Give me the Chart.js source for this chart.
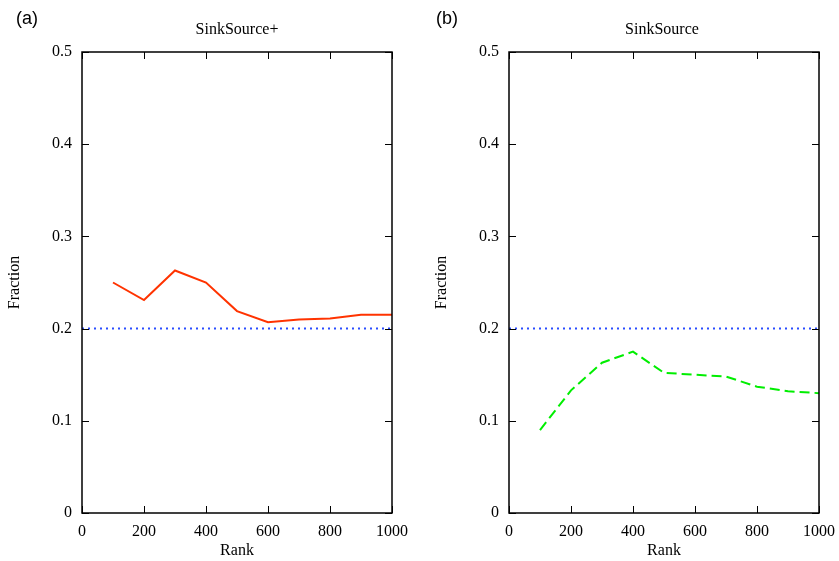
<!DOCTYPE html>
<html>
<head>
<meta charset="utf-8">
<script src="https://cdn.jsdelivr.net/npm/chart.js@4.4.0/dist/chart.umd.min.js"></script>
<style>
  html, body { margin: 0; padding: 0; background: #fff; }
  #wrap { position: relative; width: 839px; height: 561px; }
  .panel { position: absolute; top: 0; height: 561px; }
  #pa { left: 0; width: 420px; }
  #pb { left: 420px; width: 419px; }
</style>
</head>
<body>
<div id="wrap">
  <div class="panel" id="pa"><canvas id="chartA" width="420" height="561"></canvas></div>
  <div class="panel" id="pb"><canvas id="chartB" width="419" height="561"></canvas></div>
</div>
<script>
// données
const ranks = [100, 200, 300, 400, 500, 600, 700, 800, 900, 1000];
const sinkSourcePlus = [0.250, 0.231, 0.263, 0.250, 0.219, 0.207, 0.210, 0.211, 0.215, 0.215];
const sinkSource = [0.090, 0.133, 0.163, 0.175, 0.152, 0.150, 0.148, 0.137, 0.132, 0.130];
const baselineX = [0, 1000];
const baselineY = [0.2, 0.2];
const xTicks = [0, 200, 400, 600, 800, 1000];
const yTicks = [0, 0.1, 0.2, 0.3, 0.4, 0.5];

const serif = '"Liberation Serif", "Times New Roman", serif';

// cadre noir + graduations vers l'intérieur (style gnuplot)
const framePlugin = {
    id: 'frame',
    afterDatasetsDraw(chart, args, opts) {
        const { ctx, chartArea: a, scales } = chart;
        ctx.save();
        ctx.strokeStyle = '#000';
        ctx.lineWidth = 1.5;
        ctx.strokeRect(a.left, a.top, a.right - a.left, a.bottom - a.top);
        ctx.lineWidth = 1;
        const len = 7;
        ctx.beginPath();
        xTicks.forEach(v => {
            const x = Math.round(scales.x.getPixelForValue(v)) + 0.5;
            ctx.moveTo(x, a.bottom); ctx.lineTo(x, a.bottom - len);
            ctx.moveTo(x, a.top); ctx.lineTo(x, a.top + len);
        });
        yTicks.forEach(v => {
            const y = Math.round(scales.y.getPixelForValue(v)) + 0.5;
            ctx.moveTo(a.left, y); ctx.lineTo(a.left + len, y);
            ctx.moveTo(a.right, y); ctx.lineTo(a.right - len, y);
        });
        ctx.stroke();
        ctx.restore();
    },
    afterDraw(chart, args, opts) {
        const { ctx } = chart;
        ctx.save();
        ctx.fillStyle = '#000';
        ctx.textBaseline = 'middle';
        ctx.textAlign = 'left';
        ctx.font = '18px "Liberation Sans", Arial, sans-serif';
        ctx.fillText(opts.panel, opts.panelX, 19);
        ctx.textAlign = 'center';
        ctx.font = '16px ' + serif;
        ctx.fillText(opts.title, opts.titleX, 30);
        ctx.restore();
    }
};

function makeChart(id, values, color, dash, cfg) {
    const points = ranks.map((r, i) => ({ x: r, y: values[i] }));
    const base = baselineX.map((x, i) => ({ x: x, y: baselineY[i] }));
    return new Chart(document.getElementById(id), {
        type: 'line',
        data: {
            datasets: [
                {
                    data: points,
                    borderColor: color,
                    borderWidth: 2,
                    borderDash: dash,
                    pointRadius: 0,
                    tension: 0
                },
                {
                    data: base,
                    borderColor: '#2a4dff',
                    borderWidth: 2,
                    borderDash: [2, 4],
                    pointRadius: 0
                }
            ]
        },
        options: {
            responsive: false,
            animation: false,
            layout: { padding: { top: 52, right: cfg.right, left: 0, bottom: 0 } },
            plugins: {
                legend: { display: false },
                tooltip: { enabled: false },
                frame: cfg
            },
            scales: {
                x: {
                    type: 'linear',
                    min: 0, max: 1000,
                    afterBuildTicks: s => { s.ticks = xTicks.map(v => ({ value: v })); },
                    afterFit: s => { s.height = 48; s.paddingLeft = 0; s.paddingRight = 0; },
                    grid: { display: false, drawTicks: false },
                    border: { display: false },
                    ticks: {
                        padding: 9,
                        color: '#000',
                        font: { family: serif, size: 16 },
                        maxRotation: 0,
                        callback: v => String(v)
                    },
                    title: {
                        display: true, text: 'Rank', color: '#000',
                        font: { family: serif, size: 16 },
                        padding: { top: 0, bottom: 1 }
                    }
                },
                y: {
                    min: 0, max: 0.5,
                    afterBuildTicks: s => { s.ticks = yTicks.map(v => ({ value: v })); },
                    afterFit: s => { s.width = cfg.left; s.paddingTop = 0; s.paddingBottom = 0; },
                    grid: { display: false, drawTicks: false },
                    border: { display: false },
                    ticks: {
                        padding: 10,
                        color: '#000',
                        font: { family: serif, size: 16 },
                        callback: v => String(v)
                    },
                    title: {
                        display: true, text: 'Fraction', color: '#000',
                        font: { family: serif, size: 16 },
                        padding: { top: cfg.yTitlePad, bottom: 0 }
                    }
                }
            }
        },
        plugins: [framePlugin]
    });
}

makeChart('chartA', sinkSourcePlus, '#ff3300', [], {
    left: 82, right: 28, yTitlePad: 5,
    panel: '(a)', panelX: 16, title: 'SinkSource+', titleX: 237
});
makeChart('chartB', sinkSource, '#00ee00', [10, 5], {
    left: 89, right: 20, yTitlePad: 12,
    panel: '(b)', panelX: 16, title: 'SinkSource', titleX: 242
});
</script>
</body>
</html>
